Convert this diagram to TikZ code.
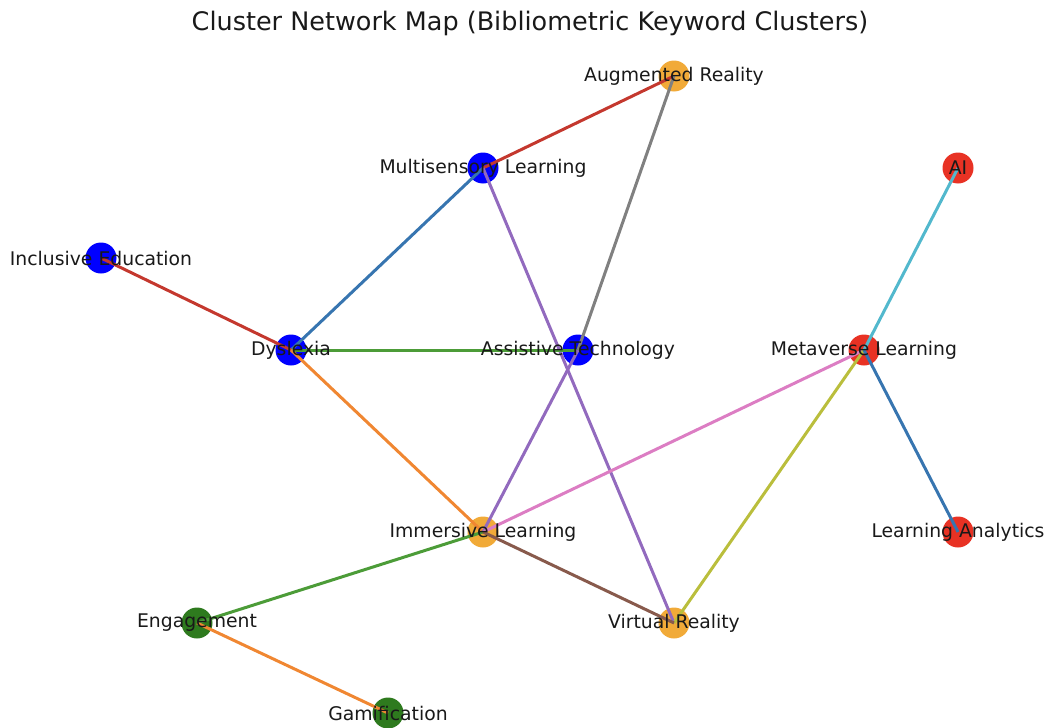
\documentclass[tikz,border=0pt]{standalone}
\usepackage{fontspec}
\setmainfont{DejaVu Sans}
\definecolor{nblue}{RGB}{0,0,255}
\definecolor{norange}{RGB}{241,170,56}
\definecolor{nred}{RGB}{232,50,36}
\definecolor{ngreen}{RGB}{46,122,30}
\definecolor{eblue}{RGB}{55,117,176}
\definecolor{eorange}{RGB}{240,135,50}
\definecolor{egreen}{RGB}{76,156,56}
\definecolor{ered}{RGB}{196,56,46}
\definecolor{epurple}{RGB}{146,106,190}
\definecolor{ebrown}{RGB}{136,90,76}
\definecolor{epink}{RGB}{220,125,195}
\definecolor{egray}{RGB}{128,128,128}
\definecolor{eolive}{RGB}{186,190,60}
\definecolor{ecyan}{RGB}{82,184,205}
\definecolor{labeltext}{RGB}{25,25,25}
\tikzset{
  kw/.style={circle, minimum size=31pt, inner sep=0pt, draw=none},
  lbl/.style={font=\fontsize{18.8}{22}\selectfont, text=labeltext, inner sep=0pt},
  edge/.style={line width=3pt},
}
\begin{document}
\begin{tikzpicture}[x=1pt,y=-1pt]
\useasboundingbox (0,0) rectangle (1050,728);
\node[font=\fontsize{25.5}{30}\selectfont, text=labeltext] (title) at (530,23) {Cluster Network Map (Bibliometric Keyword Clusters)};
% nodes
\node[kw, fill=norange] (ar) at (674,76) {};
\node[kw, fill=nblue] (ms) at (483,168) {};
\node[kw, fill=nred] (ai) at (958,168) {};
\node[kw, fill=nblue] (ie) at (101,258) {};
\node[kw, fill=nblue] (dy) at (291,350) {};
\node[kw, fill=nblue] (at) at (578,350) {};
\node[kw, fill=nred] (ml) at (864,350) {};
\node[kw, fill=norange] (il) at (483,532) {};
\node[kw, fill=nred] (la) at (958,532) {};
\node[kw, fill=ngreen] (en) at (197,623) {};
\node[kw, fill=norange] (vr) at (674,623) {};
\node[kw, fill=ngreen] (ga) at (388,713) {};
% edges
\draw[edge, ered] (ms.center) -- (ar.center);
\draw[edge, egray] (ar.center) -- (at.center);
\draw[edge, eblue] (ms.center) -- (dy.center);
\draw[edge, epurple] (ms.center) -- (vr.center);
\draw[edge, ered] (ie.center) -- (dy.center);
\draw[edge, egreen] (dy.center) -- (at.center);
\draw[edge, eorange] (dy.center) -- (il.center);
\draw[edge, epurple] (at.center) -- (il.center);
\draw[edge, epink] (ml.center) -- (il.center);
\draw[edge, ecyan] (ml.center) -- (ai.center);
\draw[edge, eolive] (ml.center) -- (vr.center);
\draw[edge, eblue] (ml.center) -- (la.center);
\draw[edge, egreen] (il.center) -- (en.center);
\draw[edge, ebrown] (il.center) -- (vr.center);
\draw[edge, eorange] (en.center) -- (ga.center);
% labels
\node[lbl] (tar) at (ar.center) {Augmented Reality};
\node[lbl] (tms) at (ms.center) {Multisensory Learning};
\node[lbl] (tai) at (ai.center) {AI};
\node[lbl] (tie) at (ie.center) {Inclusive Education};
\node[lbl] (tdy) at (dy.center) {Dyslexia};
\node[lbl] (tat) at (at.center) {Assistive Technology};
\node[lbl] (tml) at (ml.center) {Metaverse Learning};
\node[lbl] (til) at (il.center) {Immersive Learning};
\node[lbl] (tla) at (la.center) {Learning Analytics};
\node[lbl] (ten) at (en.center) {Engagement};
\node[lbl] (tvr) at (vr.center) {Virtual Reality};
\node[lbl] (tga) at (ga.center) {Gamification};
\end{tikzpicture}
\end{document}
